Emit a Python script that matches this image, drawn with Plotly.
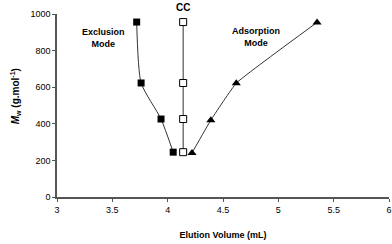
import plotly.graph_objects as go

excl_x = [3.72, 3.76, 3.94, 4.05]
excl_y = [956, 623, 426, 245]
cc_x = [4.14, 4.14, 4.14, 4.14]
cc_y = [956, 623, 426, 245]
ads_x = [4.22, 4.39, 4.62, 5.35]
ads_y = [241, 420, 622, 954]

font = "Liberation Sans, Arial, sans-serif"
fig = go.Figure()
fig.add_trace(go.Scatter(x=excl_x, y=excl_y, mode="lines+markers",
                         line=dict(color="#333", width=1, shape="spline", smoothing=0.6),
                         marker=dict(symbol="square", size=7, color="black")))
fig.add_trace(go.Scatter(x=cc_x, y=cc_y, mode="lines+markers",
                         line=dict(color="#333", width=1),
                         marker=dict(symbol="square", size=7, color="white",
                                     line=dict(color="black", width=1))))
fig.add_trace(go.Scatter(x=ads_x, y=ads_y, mode="lines+markers",
                         line=dict(color="#333", width=1, shape="spline", smoothing=0.3),
                         marker=dict(symbol="triangle-up", size=8, color="black")))

fig.add_annotation(x=4.14, y=1000, yshift=7, text="<b>CC</b>", showarrow=False,
                   yanchor="middle", font=dict(size=10, family=font, color="black"))
fig.add_annotation(x=3.42, y=870, text="<b>Exclusion<br>Mode</b>", showarrow=False,
                   font=dict(size=9, family=font, color="black"))
fig.add_annotation(x=4.8, y=875, text="<b>Adsorption<br>Mode</b>", showarrow=False,
                   font=dict(size=9, family=font, color="black"))
fig.add_annotation(xref="paper", x=0, xshift=-50, y=548, textangle=-90,
                   text="<b><i>M</i><sub>w</sub> (g.mol<sup>-1</sup>)</b>", showarrow=False,
                   font=dict(size=10, family=font, color="black"))

fig.update_layout(
    width=392, height=244, showlegend=False,
    margin=dict(l=57, r=3, t=14, b=47, autoexpand=False),
    paper_bgcolor="white", plot_bgcolor="white",
    font=dict(family=font, size=9, color="black"),
    xaxis=dict(range=[3, 6], dtick=0.5, showgrid=False, zeroline=False,
               showline=True, linecolor="#555", linewidth=1.5,
               ticks="outside", ticklen=3, tickcolor="#555",
               automargin=False,
               title=dict(text="<b>Elution Volume (mL)</b>", standoff=18,
                          font=dict(size=9))),
    yaxis=dict(range=[0, 1000], dtick=200, showgrid=False, zeroline=False,
               showline=True, linecolor="#555", linewidth=1.5,
               ticks="outside", ticklen=3, tickcolor="#555",
               automargin=False),
)
fig.write_html("out.html", config={"displayModeBar": False},
               post_script="document.body.style.margin='0';document.body.style.padding='0';")
